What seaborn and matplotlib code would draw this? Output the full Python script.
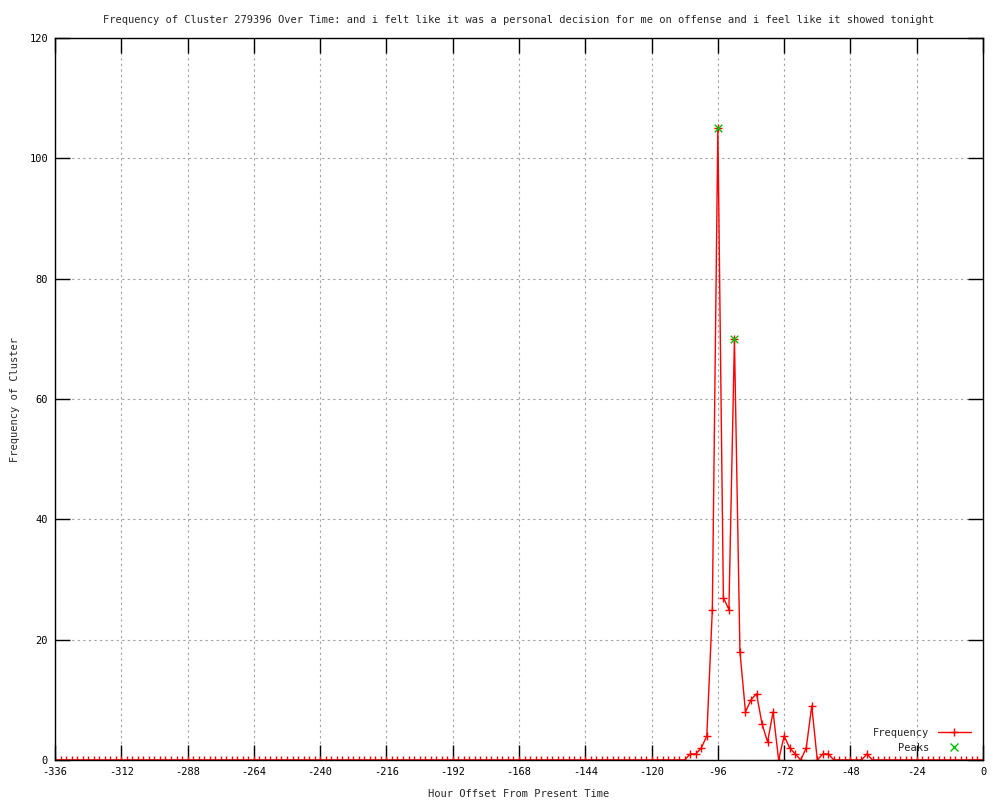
import numpy as np
import pandas as pd
import matplotlib
matplotlib.use("Agg")
import matplotlib.pyplot as plt
import seaborn as sns
from matplotlib.lines import Line2D

# Data: hour offsets every 2 hours from -336 to 0
hours = list(range(-336, 2, 2))
nonzero = {
    -106: 1, -104: 1, -102: 2, -100: 4, -98: 25, -96: 105, -94: 27, -92: 25,
    -90: 70, -88: 18, -86: 8, -84: 10, -82: 11, -80: 6, -78: 3, -76: 8,
    -74: 0, -72: 4, -70: 2, -68: 1, -66: 0, -64: 2, -62: 9, -60: 0,
    -58: 1, -56: 1, -42: 1,
}
freq = [nonzero.get(h, 0) for h in hours]
peak_hours = [-96, -90]
peak_values = [105, 70]

title = ("Frequency of Cluster 279396 Over Time: and i felt like it was a personal "
         "decision for me on offense and i feel like it showed tonight")
xlabel = "Hour Offset From Present Time"
ylabel = "Frequency of Cluster"
xticks = list(range(-336, 1, 24))
yticks = list(range(0, 121, 20))

sns.set_theme(style="white")
plt.rcParams['font.family'] = ['DejaVu Sans Mono', 'DejaVu Sans']
plt.rcParams['font.size'] = 7.5
plt.rcParams['axes.unicode_minus'] = False

fig = plt.figure(figsize=(10, 8), dpi=100)
ax = fig.add_axes([0.055, 0.05, 0.928, 0.9025])

df = pd.DataFrame({"hour": hours, "freq": freq})
pk = pd.DataFrame({"hour": peak_hours, "freq": peak_values})

sns.lineplot(data=df, x="hour", y="freq", ax=ax, color="red", linewidth=1.0,
             marker="+", markersize=6, markeredgewidth=1.0, markeredgecolor="red",
             label="Frequency", legend=False)
sns.scatterplot(data=pk, x="hour", y="freq", ax=ax, color="#00c000", marker="x",
                s=30, linewidth=1.0, zorder=5, legend=False)

ax.set_xlim(-336, 0)
ax.set_ylim(0, 120)
ax.set_xticks(xticks)
ax.set_yticks(yticks)
ax.grid(True, color="#a0a0a0", linestyle=(0, (2, 3)), linewidth=0.8)
ax.tick_params(direction="in", length=11, width=1, color="black",
               top=True, right=True, bottom=True, left=True, labelsize=7.5,
               colors="black", pad=5)
for s in ax.spines.values():
    s.set_color("black")
    s.set_linewidth(1)
ax.set_title(title, fontsize=7.5, pad=11)
ax.set_xlabel(xlabel, fontsize=7.5, labelpad=9)
ax.set_ylabel(ylabel, fontsize=7.5, labelpad=7)

handles = [
    Line2D([0], [0], color="red", lw=1.0, marker="+", markersize=6),
    Line2D([0], [0], color="#00c000", lw=0, marker="x", markersize=6),
]
leg = ax.legend(handles, ["Frequency", "Peaks"], loc="lower right",
                frameon=False, fontsize=7.5, markerfirst=False,
                handlelength=3.2, borderaxespad=0.3, labelspacing=0.45,
                bbox_to_anchor=(0.995, 0.0))

fig.savefig("out.png", dpi=100)
